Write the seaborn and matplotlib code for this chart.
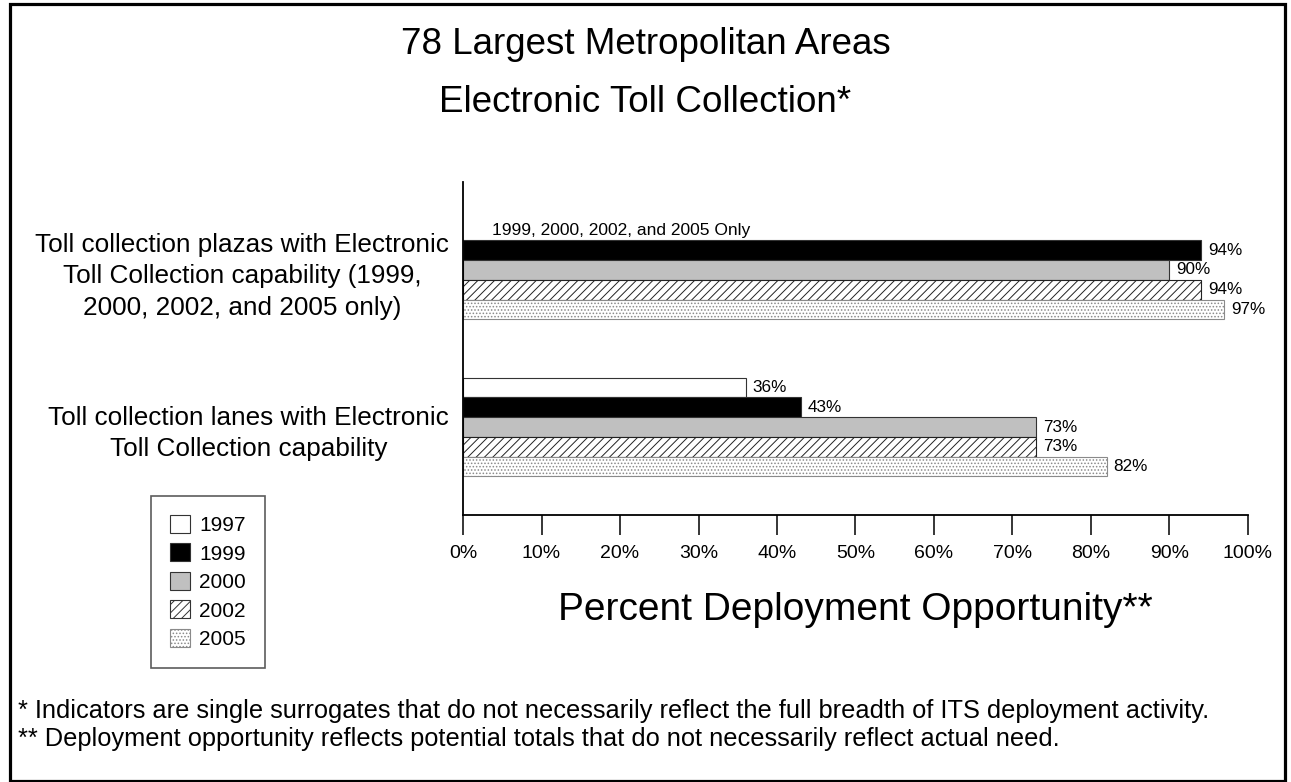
import numpy as np
import pandas as pd
import matplotlib
matplotlib.use("Agg")
import matplotlib.pyplot as plt
from matplotlib.patches import Rectangle
from matplotlib.ticker import FuncFormatter
import seaborn as sns

# ---- data ----
categories = [
    "Toll collection plazas with Electronic\nToll Collection capability (1999,\n2000, 2002, and 2005 only)",
    "Toll collection lanes with Electronic\nToll Collection capability",
]
years = ["1997", "1999", "2000", "2002", "2005"]
plazas_years = ["1999", "2000", "2002", "2005"]
plazas_values = [94, 90, 94, 97]
lanes_years = ["1997", "1999", "2000", "2002", "2005"]
lanes_values = [36, 43, 73, 73, 82]
x_ticks = [0, 10, 20, 30, 40, 50, 60, 70, 80, 90, 100]

title_lines = ["78 Largest Metropolitan Areas", "Electronic Toll Collection*"]
x_label = "Percent Deployment Opportunity**"
note_text = "1999, 2000, 2002, and 2005 Only"
footnotes = [
    "* Indicators are single surrogates that do not necessarily reflect the full breadth of ITS deployment activity.",
    "** Deployment opportunity reflects potential totals that do not necessarily reflect actual need.",
]

# ---- styling ----
face = {"1997": "#ffffff", "1999": "#000000", "2000": "#c0c0c0", "2002": "#ffffff", "2005": "#ffffff"}
hatches = {"1997": "", "1999": "", "2000": "", "2002": "////", "2005": "....."}

sns.set_style("white")
plt.rcParams["font.family"] = ["Liberation Sans", "DejaVu Sans"]
plt.rcParams["hatch.linewidth"] = 0.7
for k in ["text.color", "axes.labelcolor", "xtick.color", "ytick.color", "axes.edgecolor"]:
    plt.rcParams[k] = "black"

df = pd.DataFrame({
    "category": [categories[0]] * len(plazas_years) + [categories[1]] * len(lanes_years),
    "year": plazas_years + lanes_years,
    "value": plazas_values + lanes_values,
})

W, H = 1291, 782
fig = plt.figure(figsize=(W / 100, H / 100), dpi=100)
ax = fig.add_axes([463 / W, 1 - 515 / H, (1248 - 463) / W, (515 - 182) / H])

width = 0.627
sns.barplot(data=df, y="category", x="value", hue="year", order=categories,
            hue_order=years, palette=face, orient="h", width=width, gap=0,
            edgecolor="#333333", linewidth=0.8, legend=False, ax=ax)

bar_h = width / len(years)
for cont in ax.containers:
    p0 = cont.patches[0]
    yc = p0.get_y() + p0.get_height() / 2
    off = yc - round(yc)
    idx = int(round((off + width / 2) / bar_h - 0.5))
    yr = years[idx]
    for p in cont.patches:
        p.set_facecolor(face[yr])
        if hatches[yr]:
            p.set_hatch(hatches[yr])
            if yr == "2005":
                if hasattr(p, "set_hatchcolor"):
                    p.set_edgecolor("#333333")
                    p.set_hatchcolor("#aaaaaa")
                else:
                    p.set_edgecolor("#8a8a8a")
            else:
                p.set_edgecolor("#222222")
    ax.bar_label(cont, fmt="%.0f%%", padding=5, fontsize=12.3, color="black")

ax.set_xlim(0, 100)
ax.set_ylim(1 + 0.56, -0.56)
ax.set_xticks(x_ticks)
ax.xaxis.set_major_formatter(FuncFormatter(lambda v, _: f"{v:.0f}%"))
ax.set_xlabel("")
ax.set_ylabel("")
for s in ["top", "right"]:
    ax.spines[s].set_visible(False)
for s in ["left", "bottom"]:
    ax.spines[s].set_color("black")
    ax.spines[s].set_linewidth(1.3)
ax.tick_params(axis="x", direction="out", length=14.4, width=1.1, color="black",
               labelsize=14, labelcolor="black", pad=7, bottom=True)
ax.tick_params(axis="y", length=0, labelsize=18.8, labelcolor="black", pad=10)
for lab in ax.get_yticklabels():
    lab.set_multialignment("center")
    lab.set_linespacing(1.4)

# note in the empty 1997 slot of the plaza group
ax.text(3.7, 0 - 2 * bar_h, note_text, ha="left", va="center", fontsize=12.5)

# x axis title
fig.text((463 + 1248) / 2 / W, 1 - 610 / H, x_label, ha="center", va="center", fontsize=28)

# title
fig.text(0.5, 1 - 45 / H, title_lines[0], ha="center", va="center", fontsize=26.5)
fig.text(0.5, 1 - 102 / H, title_lines[1], ha="center", va="center", fontsize=26.5)

# legend
handles = [Rectangle((0, 0), 1, 1, facecolor=face[y], edgecolor="#333333" if y != "2005" else "#8a8a8a",
                     hatch=hatches[y], linewidth=0.8) for y in years]
leg = fig.legend(handles, years, loc="upper left", bbox_to_anchor=(151 / W, 1 - 496 / H),
                 fontsize=15, handlelength=0.96, handleheight=0.96, labelspacing=0.4,
                 handletextpad=0.45, borderpad=0.9, borderaxespad=0, frameon=True, fancybox=False)
leg.get_frame().set_edgecolor("#333333")
leg.get_frame().set_linewidth(1.2)

# footnotes
fig.text(18 / W, 1 - 711 / H, footnotes[0], ha="left", va="center", fontsize=18.3)
fig.text(18 / W, 1 - 739 / H, footnotes[1], ha="left", va="center", fontsize=18.3)

# outer frame
fig.patches.append(Rectangle((9.5 / W, 1.5 / H), (1285 - 9.5) / W, (778 - 1.5) / H,
                             transform=fig.transFigure, fill=False, edgecolor="black", linewidth=2.3))

fig.savefig("out.png", dpi=100)
